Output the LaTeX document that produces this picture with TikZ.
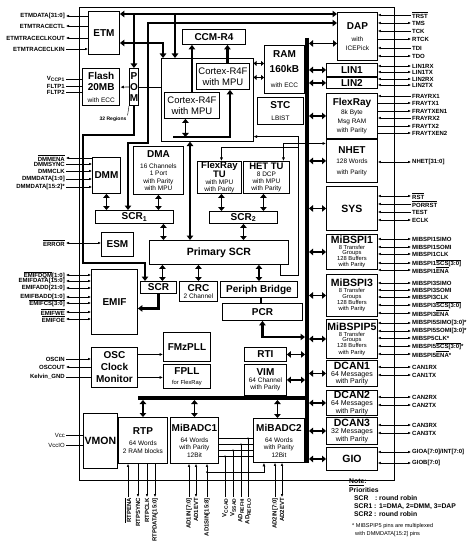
\documentclass[tikz,border=0pt]{standalone}
\usepackage{fontspec}
\setmainfont{Liberation Sans}
\usetikzlibrary{arrows.meta}
\newcommand{\pinfont}{\fontsize{6}{6.5}\selectfont\bfseries}
\newcommand{\boxtitle}{\fontsize{10}{11}\selectfont\bfseries}
\newcommand{\boxbig}{\fontsize{10.5}{11}\selectfont\bfseries}
\newcommand{\boxtiny}{\fontsize{5.8}{6}\selectfont\mdseries}
\newcommand{\ovl}[1]{$\overline{\mbox{#1}}$}
\tikzset{%
  blk/.style     = {draw, line width=0.9pt, fill=white, align=center, anchor=north west, inner sep=0pt,
    font=\fontsize{6.5}{7.3}\selectfont},
  pinl/.style    = {anchor=east, inner sep=1pt, font=\pinfont},
  pinr/.style    = {anchor=west, inner sep=1pt, font=\pinfont},
  pinb/.style    = {anchor=east, rotate=90, inner sep=1pt, font=\pinfont},
  pinin/.style   = {line width=0.5pt, -{Latex[length=3pt,width=2.6pt]}},
  pinout/.style  = {line width=0.5pt, {Latex[length=3pt,width=2.6pt]}-},
  pinbi/.style   = {line width=0.5pt, {Latex[length=3pt,width=2.6pt]}-{Latex[length=3pt,width=2.6pt]}},
  pinln/.style   = {line width=0.5pt},
  dblar/.style   = {line width=1.6pt, {Triangle[length=4pt,width=6.5pt]}-{Triangle[length=4pt,width=6.5pt]}},
  smdbl/.style   = {line width=1.2pt, {Triangle[length=3pt,width=5pt]}-{Triangle[length=3pt,width=5pt]}},
  thk/.style     = {line width=2.3pt},
  thkto/.style   = {thk, -{Triangle[length=4.5pt,width=6.5pt]}},
  thkboth/.style = {thk, {Triangle[length=4.5pt,width=6.5pt]}-{Triangle[length=4.5pt,width=6.5pt]}},
  thinto/.style  = {line width=0.6pt, -{Latex[length=3.5pt,width=3pt]}},
  thinbi/.style  = {line width=0.6pt, {Latex[length=3.5pt,width=3pt]}-{Latex[length=3.5pt,width=3pt]}},
}

\begin{document}
\begin{tikzpicture}[x=1pt, y=-1pt]
    \useasboundingbox (0,0) rectangle (472,545);
    % chip outline ---------------------------------------------------------------------------------
    \draw[line width=0.9pt] (79,7) rectangle (394,480);
    % buses ----------------------------------------------------------------------------------------
    \coordinate (bustop) at (307,38);
    \coordinate (busbot) at (307,463);
    \coordinate (busr)   at (309,0);
    \coordinate (busl)   at (305,0);
    \coordinate (bbl)    at (138,398);
    \coordinate (bbb)    at (0,400);
    \draw[line width=3.2pt] (bustop) -- (busbot);
    \draw[line width=3.2pt] (bbl) -- (bbl -| bustop);
    % blocks ---------------------------------------------------------------------------------------
    % cpu subsystem
    \node(cpu)   [blk, line width=0.6pt, minimum width=92, minimum height=83] at (161,58) {};
    \node(ccm)   [blk, minimum width=63, minimum height=15] at (182,29) {\boxtitle CCM-R4};
    \node(cra)   [blk, minimum width=55, minimum height=26, font=\fontsize{9.5}{11}\selectfont] at (164,92) {Cortex-R4F\\with MPU};
    \node(crb)   [blk, minimum width=53, minimum height=26, font=\fontsize{9.5}{11}\selectfont] at (196,63) {Cortex-R4F\\with MPU};
    \node(ram)   [blk, minimum width=40, minimum height=48, font=\fontsize{6.5}{15}\selectfont] at (264,45) {\boxtitle RAM\\\boxtitle 160kB\\with ECC};
    \node(stc)   [blk, minimum width=46, minimum height=27, font=\fontsize{6.5}{12}\selectfont] at (257,97) {\boxtitle STC\\LBIST};
    % left column
    \node(etm)   [blk, minimum width=31, minimum height=43] at (88,11) {\boxtitle ETM};
    \node(flash) [blk, line width=1.4pt, minimum width=37, minimum height=37, font=\fontsize{6.5}{11.5}\selectfont] at (82,68) {\boxtitle Flash\\\boxtitle 20MB\\with ECC};
    \node(pom)   [blk, minimum width=9, minimum height=37, font=\fontsize{10}{11}\selectfont\bfseries] at (129,68) {P\\O\\M};
    \node(dmm)   [blk, minimum width=28, minimum height=36] at (92,157) {\boxtitle DMM};
    \node(dma)   [blk, minimum width=50, minimum height=48] at (133,146) {\boxtitle DMA\\[4pt]16 Channels\\1 Port\\with Parity\\with MPU};
    \node(frtu)  [blk, minimum width=44, minimum height=32, font=\fontsize{6.5}{7}\selectfont] at (197,161) {\fontsize{9.5}{9}\selectfont\bfseries FlexRay\\\fontsize{9.5}{9}\selectfont\bfseries TU\\with MPU\\with Parity};
    \node(hettu) [blk, minimum width=46, minimum height=32, font=\fontsize{6.5}{7}\selectfont] at (243,161) {\fontsize{9.5}{9}\selectfont\bfseries HET TU\\8 DCP\\with MPU\\with Parity};
    \node(scr1)  [blk, minimum width=78, minimum height=13] at (95,210) {\boxtitle SCR\textsubscript{1}};
    \node(scr2)  [blk, minimum width=68, minimum height=12] at (209,211) {\boxtitle SCR\textsubscript{2}};
    \node(esm)   [blk, minimum width=32, minimum height=24] at (101,232) {\boxtitle ESM};
    \node(prim)  [blk, minimum width=139, minimum height=24] at (149,240) {\boxbig Primary SCR};
    \node(scr)   [blk, minimum width=36, minimum height=12] at (140,281) {\boxtitle SCR};
    \node(crc)   [blk, minimum width=38, minimum height=20] at (179,281) {\boxtitle CRC\\2 Channel};
    \node(pbr)   [blk, minimum width=77, minimum height=16] at (220,281) {\boxtitle Periph Bridge};
    \node(pcr)   [blk, minimum width=80, minimum height=17] at (222,303) {\boxtitle PCR};
    \node(emif)  [blk, minimum width=46, minimum height=65] at (91,269) {\boxtitle EMIF};
    \node(osc)   [blk, minimum width=46, minimum height=40, font=\fontsize{10}{12}\selectfont\bfseries] at (91,347) {OSC\\Clock\\Monitor};
    \node(fmz)   [blk, minimum width=47, minimum height=29] at (163,332) {\boxtitle FMzPLL};
    \node(fpll)  [blk, minimum width=47, minimum height=24, font=\fontsize{5.8}{10}\selectfont] at (163,364) {\boxtitle FPLL\\for FlexRay};
    \node(rti)   [blk, minimum width=42, minimum height=14] at (244,347) {\boxtitle RTI};
    \node(vim)   [blk, minimum width=42, minimum height=31] at (244,364) {\boxtitle VIM\\[-1pt]64 Channel\\with Parity};
    \node(vmon)  [blk, minimum width=34, minimum height=55] at (83,413) {\boxbig VMON};
    \node(rtp)   [blk, minimum width=49, minimum height=46] at (118,417) {\boxtitle RTP\\[4pt]64 Words\\2 RAM blocks};
    \node(adc1)  [blk, minimum width=48, minimum height=46] at (170,417) {\boxtitle MiBADC1\\[4pt]64 Words\\with Parity\\12Bit};
    \node(adc2)  [blk, minimum width=51, minimum height=44] at (253,418) {\boxtitle MiBADC2\\[4pt]64 Words\\with Parity\\12Bit};
    % right column
    \node(dap)   [blk, minimum width=40, minimum height=48, font=\fontsize{6.5}{9}\selectfont] at (337,12) {\boxtitle DAP\\[3pt]with\\ICEPick};
    \node(lin1)  [blk, minimum width=51, minimum height=13] at (326,63) {\boxtitle LIN1};
    \node(lin2)  [blk, minimum width=51, minimum height=11] at (326,77) {\boxtitle LIN2};
    \node(flexray) [blk, minimum width=51, minimum height=45, font=\fontsize{6.5}{9}\selectfont] at (326,93) {\boxtitle FlexRay\\8k Byte\\Msg RAM\\with Parity};
    \node(nhet)  [blk, minimum width=51, minimum height=43, font=\fontsize{6.5}{10.5}\selectfont] at (326,139) {\boxtitle NHET\\128 Words\\with Parity};
    \node(sys)   [blk, minimum width=51, minimum height=44] at (326,186) {\boxbig SYS};
    \node(spi1)  [blk, minimum width=51, minimum height=35, font=\fontsize{5.8}{6}\selectfont] at (326,234) {\boxbig MiBSPI1\\8 Transfer\\[-1pt]Groups\\128 Buffers\\with Parity};
    \node(spi3)  [blk, minimum width=51, minimum height=42, font=\fontsize{5.8}{6.3}\selectfont] at (326,274) {\boxbig MiBSPI3\\8 Transfer\\[-1pt]Groups\\128 Buffers\\with Parity};
    \node(spi5)  [blk, minimum width=51, minimum height=39, font=\fontsize{5.8}{6.3}\selectfont] at (326,319) {\boxbig MiBSPIP5\\8 Transfer\\[-1pt]Groups\\128 Buffers\\with Parity};
    \node(can1)  [blk, minimum width=51, minimum height=26, font=\fontsize{7}{7.3}\selectfont] at (326,360) {\boxbig DCAN1\\64 Messages\\with Parity};
    \node(can2)  [blk, minimum width=51, minimum height=25, font=\fontsize{7}{7.3}\selectfont] at (326,390) {\boxbig DCAN2\\64 Messages\\with Parity};
    \node(can3)  [blk, minimum width=51, minimum height=27, font=\fontsize{7}{7.3}\selectfont] at (326,417) {\boxbig DCAN3\\32 Messages\\with Parity};
    \node(gio)   [blk, minimum width=51, minimum height=23] at (326,447) {\boxbig GIO};
    % helper points ----------------------------------------------------------------------------------
    \coordinate (ytop)    at (0,14);
    \coordinate (ydap)    at (0,23);
    \coordinate (yetm)    at (0,43);
    \coordinate (jdap)    at (148,143);
    \coordinate (jpom1)   at (83,135);
    \coordinate (jpom2)   at (83,263);
    \coordinate (jp1)     at (298,275);
    \coordinate (jfr)     at (298,147);
    \coordinate (jpcr)    at (305,337);
    \coordinate (cbl)     at (173,137);
    \coordinate (cbr)     at (230,137);
    \coordinate (cpuA)    at ([xshift=14pt]cpu.north west);
    \coordinate (cpuB)    at ([xshift=2pt]cpu.north west);
    \coordinate (cpuC)    at ([xshift=29pt]cpu.south west);
    \coordinate (cpuD)    at ([yshift=5pt]cpu.south east);
    \coordinate (scr1in)  at ([xshift=33pt]scr1.north west);
    \coordinate (scr1out) at ([xshift=29pt]scr1.south);
    \coordinate (scrin)   at ([xshift=5pt]scr.north west);
    \coordinate (scrbus)  at ([xshift=4pt]scr.north);
    \coordinate (emifin)  at ([yshift=-6.5pt]emif.east);
    \coordinate (dapin)   at ([yshift=-7pt]dap.west);
    \coordinate (crain)   at ([xshift=-6.5pt]cra.south);
    \coordinate (crbout)  at ([xshift=4.5pt]crb.north);
    \coordinate (pbrout)  at ([xshift=2pt]pbr.south);
    \coordinate (primout) at ([xshift=-9pt]prim.south east);
    \coordinate (hetin)   at ([xshift=17pt]hettu.north);
    \coordinate (hetbus)  at ([xshift=-3pt]hettu.south);
    \coordinate (nhetin)  at ([yshift=17.5pt]nhet.west);
    \coordinate (frin)    at ([xshift=2pt]frtu.north);
    \coordinate (ramA)    at ([yshift=6pt]ram.west);
    \coordinate (ramB)    at ([yshift=-8pt]ram.west);
    \coordinate (fmzin)   at ([yshift=13pt]osc.east);
    \coordinate (fpllin)  at ([yshift=-10pt]osc.east);
    \coordinate (adc2in)  at ([xshift=-15pt]adc2.south);
    \coordinate (adc2bus) at ([xshift=-1.5pt]adc2.north);
    % arrows ---------------------------------------------------------------------------------------
    % thick master paths
    \draw[thkboth] (etm.east |- ytop) -- (dap.west |- ytop);
    \draw[thkto]   (pom.north |- ytop) -- (pom.north);
    \draw[thkto]   (cpuA |- ytop) -- (cpuA);
    \draw[thkboth] (etm.east |- yetm) -| (cpuB);
    \draw[thkboth] (dap.west |- ydap) -| (jdap) -| (scr1in);
    \draw[thkto]   (pom.south) |- (jpom1) -- (jpom2) -| (scrin);
    \draw[thkto]   (scr.south) |- (emifin);
    \draw[thkboth] (cpuC) -- (cpuC |- prim.north);
    \draw[thkto]   (cbl) -- (cbr) -- (cbr |- crb.south);
    \draw[thkto]   (cra.north) -- (cra.north |- ccm.south);
    \draw[thkto]   (crbout) -- (crbout |- ccm.south);
    \draw[thk]     (pbrout) -- (pbrout |- pcr.north);
    \draw[thkboth, line width=2.8pt] (pcr.south) |- (jpcr);
    % switch fabric
    \draw[dblar] (crain) -- (crain |- cbl);
    \draw[dblar] (dmm.south) -- (dmm.south |- scr1.north);
    \draw[dblar] (dma.south) -- (dma.south |- scr1.north);
    \draw[dblar] (frin |- frtu.south) -- (frin |- scr2.north);
    \draw[dblar] (hetbus) -- (hetbus |- scr2.north);
    \draw[dblar] (scr1out) -- (scr1out |- prim.north);
    \draw[dblar] (scr2.south) -- (scr2.south |- prim.north);
    \draw[dblar] (scrbus) -- (scrbus |- prim.south);
    \draw[dblar] (crc.north) -- (crc.north |- prim.south);
    \draw[dblar] (pbr.north) -- (pbr.north |- prim.south);
    \draw[smdbl] (ramA) -- (ramA -| cpu.east);
    \draw[smdbl] (ramB) -- (ramB -| cpu.east);
    % peripheral bus
    \draw[dblar] (busr |- dapin) -- (dapin);
    \foreach \n in {lin1,lin2,flexray,nhet,sys,spi1,spi3,spi5,can1,can2,can3,gio}
      \draw[dblar] (busr |- \n.west) -- (\n.west);
    \draw[dblar] (rti.east) -- (rti.east -| busl);
    \draw[dblar] (vim.east) -- (vim.east -| busl);
    \draw[dblar] (rtp.north) -- (rtp.north |- bbb);
    \draw[dblar] (adc1.north) -- (adc1.north |- bbb);
    \draw[dblar] (adc2bus) -- (adc2bus |- bbb);
    % thin links
    \draw[thinto] (pom.west) -- (flash.east);
    \draw[pinln]  (pom.east) -- (pom.east -| cpu.west);
    \draw[thinto] (primout) |- (jp1) |- (cpuD);
    \draw[thinto] (jfr) -| (frin);
    \draw[thinbi] (hetin) |- (nhetin);
    \draw[thinto] (fmzin) -- (fmzin -| fmz.west);
    \draw[thinto] (fpllin) -- (fpllin -| fpll.west);
    \node(reg) [inner sep=1pt, font=\fontsize{5}{6}\selectfont\bfseries] at (113,119) {32 Regions};
    \draw[line width=0.4pt] (reg.north east) -- (pom.south west);
    % pins left ------------------------------------------------------------------------------------
    \foreach \y/\t/\s in {16/{ETMDATA[31:0]}/pinout, 26/ETMTRACECTL/pinout, 38/ETMTRACECLKOUT/pinout, 49/ETMTRACECLKIN/pinin}
      {\node(p) [pinl] at (66,\y) {\t}; \draw[\s] (p.east) -- (p.east -| etm.west);}
    \foreach \y/\t in {79/V\textsubscript{CCP1}, 86/FLTP1, 92/FLTP2}
      {\node(p) [pinl] at (66,\y) {\t}; \draw[pinln] (p.east) -- (p.east -| flash.west);}
    \foreach \y/\t/\s in {158/{\ovl{DMMENA}}/pinout, 164/DMMSYNC/pinin, 171/DMMCLK/pinin, 179/{DMMDATA[1:0]}/pinin, 187/{DMMDATA[15:2]*}/pinin}
      {\node(p) [pinl] at (66,\y) {\t}; \draw[\s] (p.east) -- (p.east -| dmm.west);}
    \node(err) [pinl] at (66,243) {\ovl{ERROR}};
    \draw[pinbi] (err.east) -- (err.east -| esm.west);
    \foreach \y/\t in {275/{\ovl{EMIFDQM}[1:0]}, 281/{EMIFDATA[15:0]}, 288/{EMIFADD[21:0]}, 297/{EMIFBADD[1:0]}, 303/{\ovl{EMIFCS[3:0]}}, 312/{\ovl{EMIFWE}}, 319/{\ovl{EMIFOE}}}
      {\node(p) [pinl] at (66,\y) {\t}; \draw[pinbi] (p.east) -- (p.east -| emif.west);}
    \foreach \y/\t/\s in {359/OSCIN/pinin, 367/OSCOUT/pinout, 377/Kelvin\_GND/pinln}
      {\node(p) [pinl] at (66,\y) {\t}; \draw[\s] (p.east) -- (p.east -| osc.west);}
    \foreach \y/\t in {435/Vcc, 445/VccIO}
      {\node(p) [pinl, font=\fontsize{6}{6.5}\selectfont] at (66,\y) {\t}; \draw[pinln] (p.east) -- (p.east -| vmon.west);}
    % pins right -----------------------------------------------------------------------------------
    \foreach \y/\t/\s in {15/{\ovl{TRST}}/pinin, 23/TMS/pinbi, 31/TCK/pinin, 39/RTCK/pinout, 48/TDI/pinin, 56/TDO/pinbi}
      {\node(p) [pinr] at (411,\y) {\t}; \draw[\s] (p.west) -- (p.west -| dap.east);}
    \foreach \y/\t in {66/LIN1RX, 72/LIN1TX, 79/LIN2RX, 85/LIN2TX}
      {\node(p) [pinr] at (411,\y) {\t}; \draw[pinbi] (p.west) -- (p.west -| lin1.east);}
    \foreach \y/\t/\s in {96/FRAYRX1/pinin, 103/FRAYTX1/pinout, 111/FRAYTXEN1/pinout, 118/FRAYRX2/pinin, 126/FRAYTX2/pinout, 133/FRAYTXEN2/pinout}
      {\node(p) [pinr] at (411,\y) {\t}; \draw[\s] (p.west) -- (p.west -| flexray.east);}
    \node(nhp) [pinr] at (411,162) {NHET[31:0]};
    \draw[pinbi] (nhp.west) -- (nhp.west -| nhet.east);
    \foreach \y/\t/\s in {196/{\ovl{RST}}/pinbi, 204/{\ovl{PORRST}}/pinin, 212/TEST/pinin, 220/ECLK/pinbi}
      {\node(p) [pinr] at (411,\y) {\t}; \draw[\s] (p.west) -- (p.west -| sys.east);}
    \foreach \y/\t in {239/MIBSPI1SIMO, 247/MIBSPI1SOMI, 254/MIBSPI1CLK, 263/{MIBSPI1\ovl{SCS[3:0]}}, 270/{MIBSPI1\ovl{ENA}},
                       283/MIBSPI3SIMO, 290/MIBSPI3SOMI, 297/MIBSPI3CLK, 305/{MIBSPI3\ovl{SCS[3:0]}}, 313/{MIBSPI3\ovl{ENA}},
                       323/{MIBSPI5SIMO[3:0]*}, 331/{MIBSPI5SOMI[3:0]*}, 338/{MIBSP5CLK*}, 346/{MIBSPI5\ovl{SCS[3:0]}*}, 354/{MIBSPI5\ovl{ENA}*},
                       367/CAN1RX, 375/CAN1TX, 397/CAN2RX, 405/CAN2TX, 425/CAN3RX, 433/CAN3TX, 452/{GIOA[7:0]/INT[7:0]}, 463/{GIOB[7:0]}}
      {\node(p) [pinr] at (411,\y) {\t}; \draw[pinbi] (p.west) -- (p.west -| spi1.east);}
    % pins bottom ----------------------------------------------------------------------------------
    \foreach \x/\t/\s in {128/{\ovl{RTPENA}}/pinin, 138/RTPSYNC/pinout, 147/RTPCLK/pinout, 155/{RTPDATA[15:0]}/pinout}
      {\node(b) [pinb] at (\x,497) {\t}; \draw[\s] (b.east) -- (b.east |- rtp.south);}
    \foreach \x/\t/\s in {189/{AD1IN[7:0]}/pinin, 196/AD1EVT/pinbi, 207/{AD1SIN[15:8]}/pinin}
      {\node(b) [pinb] at (\x,497) {\t}; \draw[\s] (b.east) -- (b.east |- adc1.south);}
    \foreach \x/\t/\s in {275/{AD2IN[7:0]}/pinin, 282/AD2EVT/pinbi}
      {\node(b) [pinb] at (\x,497) {\t}; \draw[\s] (b.east) -- (b.east |- adc2.south);}
    \coordinate (jsin) at (207,472);
    \fill (jsin) circle (1pt);
    \draw[thinto] (jsin) -| (adc2in);
    % adc references
    \foreach \dy/\x/\t in {2/248/{AD\textsubscript{REFLO}}, -4/241/{AD\textsubscript{REFHI}}, -10/233/{V\textsubscript{SSAD}}, -16/225/{V\textsubscript{CCAD}}}
      {\coordinate (h) at ([yshift=\dy pt]adc1.east);
       \draw[pinln] (h) -- (h -| adc2.west);
       \node(v) [pinb] at (\x,497) {\t};
       \draw[pinln] (v.east) -- (v.east |- h);
       \fill (v.east |- h) circle (1pt);}
    % notes ----------------------------------------------------------------------------------------
    \node(note) [anchor=north west, align=left, inner sep=0pt, font=\fontsize{6.8}{8.2}\selectfont\bfseries] at (349,479)
      {\underline{Note}:\\Priorities\\\hspace*{5pt}SCR\hspace{6.5pt}: round robin\\\hspace*{5pt}SCR1 : 1=DMA, 2=DMM, 3=DAP\\\hspace*{5pt}SCR2 : round robin};
    \node(fn) [anchor=north west, align=left, inner sep=0pt, font=\fontsize{5.6}{7.8}\selectfont] at (352,523)
      {* MIBSPIP5 pins are multiplexed\\\hspace*{3pt}with DMMDATA[15:2] pins};
\end{tikzpicture}
\end{document}
